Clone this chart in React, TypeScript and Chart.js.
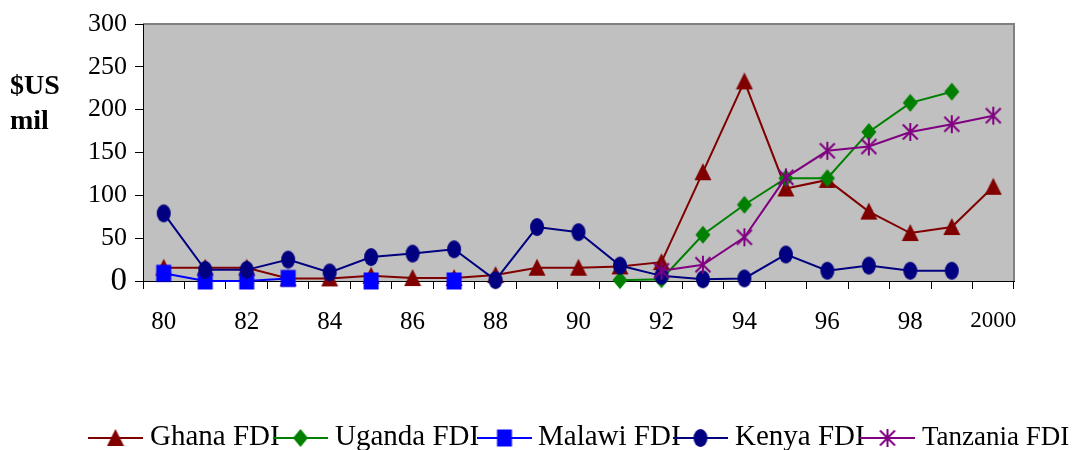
import React, { useEffect, useRef } from 'react';
import { Chart, registerables } from 'chart.js';

Chart.register(...registerables);

// ---------- data ----------
const categories = ['80', '81', '82', '83', '84', '85', '86', '87', '88', '89', '90', '91', '92', '93', '94', '95', '96', '97', '98', '99', '2000'];
const xTickLabels = ['80', '82', '84', '86', '88', '90', '92', '94', '96', '98', '2000'];
const yTickValues = [0, 50, 100, 150, 200, 250, 300];

const ghanaFDI = [15.5, 15.5, 15.5, 3, 3, 6, 3.5, 3.5, 7, 15.5, 15.5, 17, 22, 127, 233, 108, 118, 81, 56, 63, 110];
const ugandaFDI = [null, null, null, null, null, null, null, null, null, null, null, 1, 2, 54, 89, 120, 120, 174, 208, 221, null];
const malawiFDI = [9, 0, 0, 3, null, 0, null, 0, null, null, null, null, null, null, null, null, null, null, null, null, null];
const kenyaFDI = [79, 13, 13, 25, 10, 28, 32, 37, 1, 63, 57, 18, 6, 2, 3, 31, 12, 18, 12, 12, null];
const tanzaniaFDI = [null, null, null, null, null, null, null, null, null, null, null, null, 12, 19, 51, 121, 152, 157, 174, 183, 193];

const seriesNames = ['Ghana FDI', 'Uganda FDI', 'Malawi FDI', 'Kenya FDI', 'Tanzania FDI'];
const seriesColors = ['#800000', '#008000', '#0000FF', '#000080', '#800080'];
const seriesMarkers = ['triangle', 'diamond', 'square', 'circle', 'asterisk'];
const seriesData = [ghanaFDI, ugandaFDI, malawiFDI, kenyaFDI, tanzaniaFDI];

const FONT = '"Liberation Serif", "Times New Roman", serif';

function makeMarker(kind: string, color: string): HTMLCanvasElement {
  const c = document.createElement('canvas');
  c.width = 18;
  c.height = 20;
  const g = c.getContext('2d') as CanvasRenderingContext2D;
  const cx = 9, cy = 10;
  g.fillStyle = color;
  g.strokeStyle = color;
  g.beginPath();
  if (kind === 'triangle') {
    g.moveTo(cx, cy - 9);
    g.lineTo(cx + 8.5, cy + 8);
    g.lineTo(cx - 8.5, cy + 8);
    g.closePath();
    g.fill();
  } else if (kind === 'diamond') {
    g.moveTo(cx, cy - 9);
    g.lineTo(cx + 7.5, cy);
    g.lineTo(cx, cy + 9);
    g.lineTo(cx - 7.5, cy);
    g.closePath();
    g.fill();
  } else if (kind === 'square') {
    g.fillRect(cx - 7.5, cy - 8.5, 15, 17);
  } else if (kind === 'circle') {
    g.ellipse(cx, cy, 7, 9, 0, 0, Math.PI * 2);
    g.fill();
  } else {
    g.lineWidth = 2;
    g.moveTo(cx, cy - 9);
    g.lineTo(cx, cy + 9);
    g.moveTo(cx - 7.5, cy - 7.5);
    g.lineTo(cx + 7.5, cy + 7.5);
    g.moveTo(cx + 7.5, cy - 7.5);
    g.lineTo(cx - 7.5, cy + 7.5);
    g.stroke();
  }
  return c;
}

export default function App() {
  const ref = useRef<HTMLCanvasElement | null>(null);

  useEffect(() => {
    document.body.style.margin = '0';
    const canvas = ref.current;
    if (!canvas) return;
    const markers = seriesMarkers.map((m, i) => makeMarker(m, seriesColors[i]));

    const legendLayout = [
      { lineX: 88, textX: 150, size: 29 },
      { lineX: 273, textX: 335, size: 29 },
      { lineX: 477, textX: 538, size: 29 },
      { lineX: 673, textX: 735, size: 29 },
      { lineX: 860, textX: 922, size: 27 },
    ];

    const decor = {
      id: 'decor',
      beforeDraw(chart: any) {
        const { ctx, chartArea: a } = chart;
        ctx.save();
        ctx.fillStyle = '#C0C0C0';
        ctx.fillRect(a.left, a.top, a.right - a.left, a.bottom - a.top);
        ctx.strokeStyle = '#808080';
        ctx.lineWidth = 2;
        ctx.beginPath();
        ctx.moveTo(a.left, a.top);
        ctx.lineTo(a.right, a.top);
        ctx.lineTo(a.right, a.bottom);
        ctx.stroke();
        ctx.restore();
      },
      afterDraw(chart: any) {
        const { ctx } = chart;
        ctx.save();
        // y axis title
        ctx.fillStyle = '#000';
        ctx.font = `bold 28px ${FONT}`;
        ctx.textAlign = 'left';
        ctx.textBaseline = 'middle';
        ctx.fillText('$US', 10, 87);
        ctx.fillText('mil', 10, 122);
        // legend
        const ly = 438;
        seriesNames.forEach((name, i) => {
          const L = legendLayout[i];
          ctx.strokeStyle = seriesColors[i];
          ctx.lineWidth = 2;
          ctx.beginPath();
          ctx.moveTo(L.lineX, ly);
          ctx.lineTo(L.lineX + 55, ly);
          ctx.stroke();
          const mk = markers[i];
          ctx.drawImage(mk, L.lineX + 27.5 - mk.width / 2, ly - mk.height / 2);
          ctx.fillStyle = '#000';
          ctx.font = `${L.size}px ${FONT}`;
          ctx.textBaseline = 'alphabetic';
          ctx.fillText(name, L.textX, 445);
        });
        ctx.restore();
      },
    };

    const chart = new Chart(canvas, {
      type: 'line',
      data: {
        labels: categories,
        datasets: seriesNames.map((name, i) => ({
          label: name,
          data: seriesData[i],
          borderColor: seriesColors[i],
          backgroundColor: seriesColors[i],
          borderWidth: 2,
          pointStyle: markers[i] as any,
          pointRadius: 8,
          pointHoverRadius: 8,
          fill: false,
          tension: 0,
          spanGaps: false,
          clip: false as any,
          order: seriesNames.length - i,
        })),
      },
      options: {
        animation: false,
        responsive: false,
        events: [],
        layout: { padding: { left: 0, top: 24, right: 66, bottom: 0 } },
        plugins: {
          legend: { display: false },
          tooltip: { enabled: false },
          title: { display: false },
        },
        scales: {
          x: {
            type: 'category',
            offset: true,
            afterFit: (scale: any) => { scale.height = 169; },
            grid: {
              offset: true,
              drawOnChartArea: false,
              drawTicks: true,
              tickLength: 8,
              color: '#000',
            },
            border: { display: true, color: '#000', width: 1 },
            ticks: {
              autoSkip: false,
              maxRotation: 0,
              minRotation: 0,
              padding: 18,
              color: '#000',
              font: (ctx: any) => ({ family: FONT, size: ctx.index === categories.length - 1 ? 23 : 25 }),
              callback: (_v: any, idx: number) => (xTickLabels.includes(categories[idx]) ? categories[idx] : ''),
            },
          },
          y: {
            min: 0,
            max: 300,
            afterFit: (scale: any) => { scale.width = 143; },
            afterBuildTicks: (scale: any) => { scale.ticks = yTickValues.map((v) => ({ value: v })); },
            grid: {
              drawOnChartArea: false,
              drawTicks: true,
              tickLength: 8,
              color: '#000',
            },
            border: { display: true, color: '#000', width: 1 },
            ticks: {
              padding: 8,
              color: '#000',
              font: (ctx: any) => ({ family: FONT, size: ctx.tick && ctx.tick.value === 0 ? 33 : 26 }),
            },
          },
        },
      },
      plugins: [decor],
    });

    return () => chart.destroy();
  }, []);

  return (
    <div style={{ width: 1080, height: 450 }}>
      <canvas ref={ref} width={1080} height={450} style={{ display: 'block' }} />
    </div>
  );
}
